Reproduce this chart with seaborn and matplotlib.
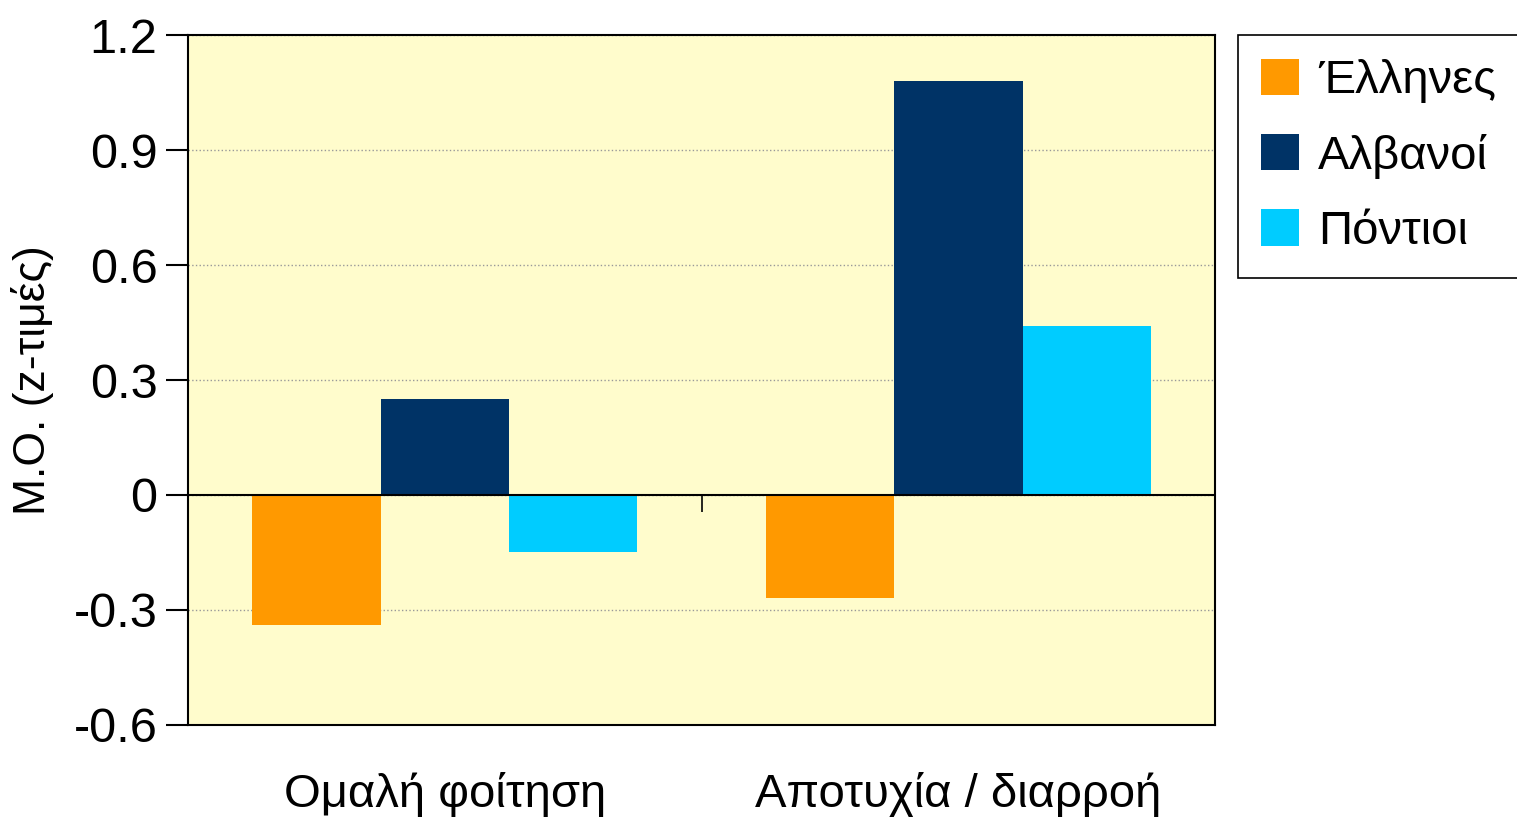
import matplotlib
matplotlib.use("Agg")
import matplotlib.pyplot as plt
import seaborn as sns
import pandas as pd

categories = ['Ομαλή φοίτηση', 'Αποτυχία / διαρροή']
groups = ['Έλληνες', 'Αλβανοί', 'Πόντιοι']
ellines = [-0.34, -0.27]
alvanoi = [0.25, 1.08]
pontioi = [-0.15, 0.44]
yticks = [-0.6, -0.3, 0, 0.3, 0.6, 0.9, 1.2]
ytick_labels = ['-0.6', '-0.3', '0', '0.3', '0.6', '0.9', '1.2']
colors = ['#FF9900', '#003366', '#00CCFF']

df = pd.DataFrame({
    'cat': categories * 3,
    'group': [g for g in groups for _ in categories],
    'value': ellines + alvanoi + pontioi,
})

sns.set_style('white')
plt.rcParams['font.family'] = ['Liberation Sans', 'DejaVu Sans']
plt.rcParams['text.color'] = 'black'
plt.rcParams['axes.labelcolor'] = 'black'
plt.rcParams['xtick.color'] = 'black'
plt.rcParams['ytick.color'] = 'black'

fig = plt.figure(figsize=(15.17, 8.26), dpi=100)
ax = fig.add_axes([0.1239, 0.1223, 0.6771, 0.8353])
ax.set_facecolor('#FFFCCC')

sns.barplot(data=df, x='cat', y='value', hue='group', order=categories,
            hue_order=groups, palette=colors, width=0.75, saturation=1,
            linewidth=0, ax=ax, zorder=3)

ax.set_ylim(-0.6, 1.2)
ax.set_xlim(-0.5, 1.5)
ax.set_yticks(yticks)
ax.set_yticklabels(ytick_labels)
ax.yaxis.grid(True, color='#999999', linestyle=':', linewidth=1, zorder=0)
ax.set_axisbelow(True)
# zero line with the category-boundary tick
ax.axhline(0, color='black', linewidth=1.5, zorder=4)
ax.vlines(0.5, -0.045, 0, color='black', linewidth=1.2, zorder=4)

for s in ax.spines.values():
    s.set_color('black')
    s.set_linewidth(1.5)

ax.tick_params(axis='y', which='both', left=True, length=16, width=1.5,
               labelsize=35, pad=6)
ax.tick_params(axis='x', which='both', bottom=False, labelsize=34, pad=30)
ax.set_xlabel('')
ax.set_ylabel('Μ.Ο. (z-τιμές)', fontsize=32, labelpad=14)

handles, labels = ax.get_legend_handles_labels()
leg = ax.legend(handles, labels, loc='upper left', bbox_to_anchor=(1.022, 1.0),
                frameon=True, fancybox=False, framealpha=1, fontsize=34,
                handlelength=0.8, handleheight=0.8, handletextpad=0.4,
                labelspacing=0.65, borderpad=0.5, borderaxespad=0.0)
leg.get_frame().set_edgecolor('black')
leg.get_frame().set_linewidth(1.2)

fig.savefig('out.png', dpi=100, facecolor='white')
